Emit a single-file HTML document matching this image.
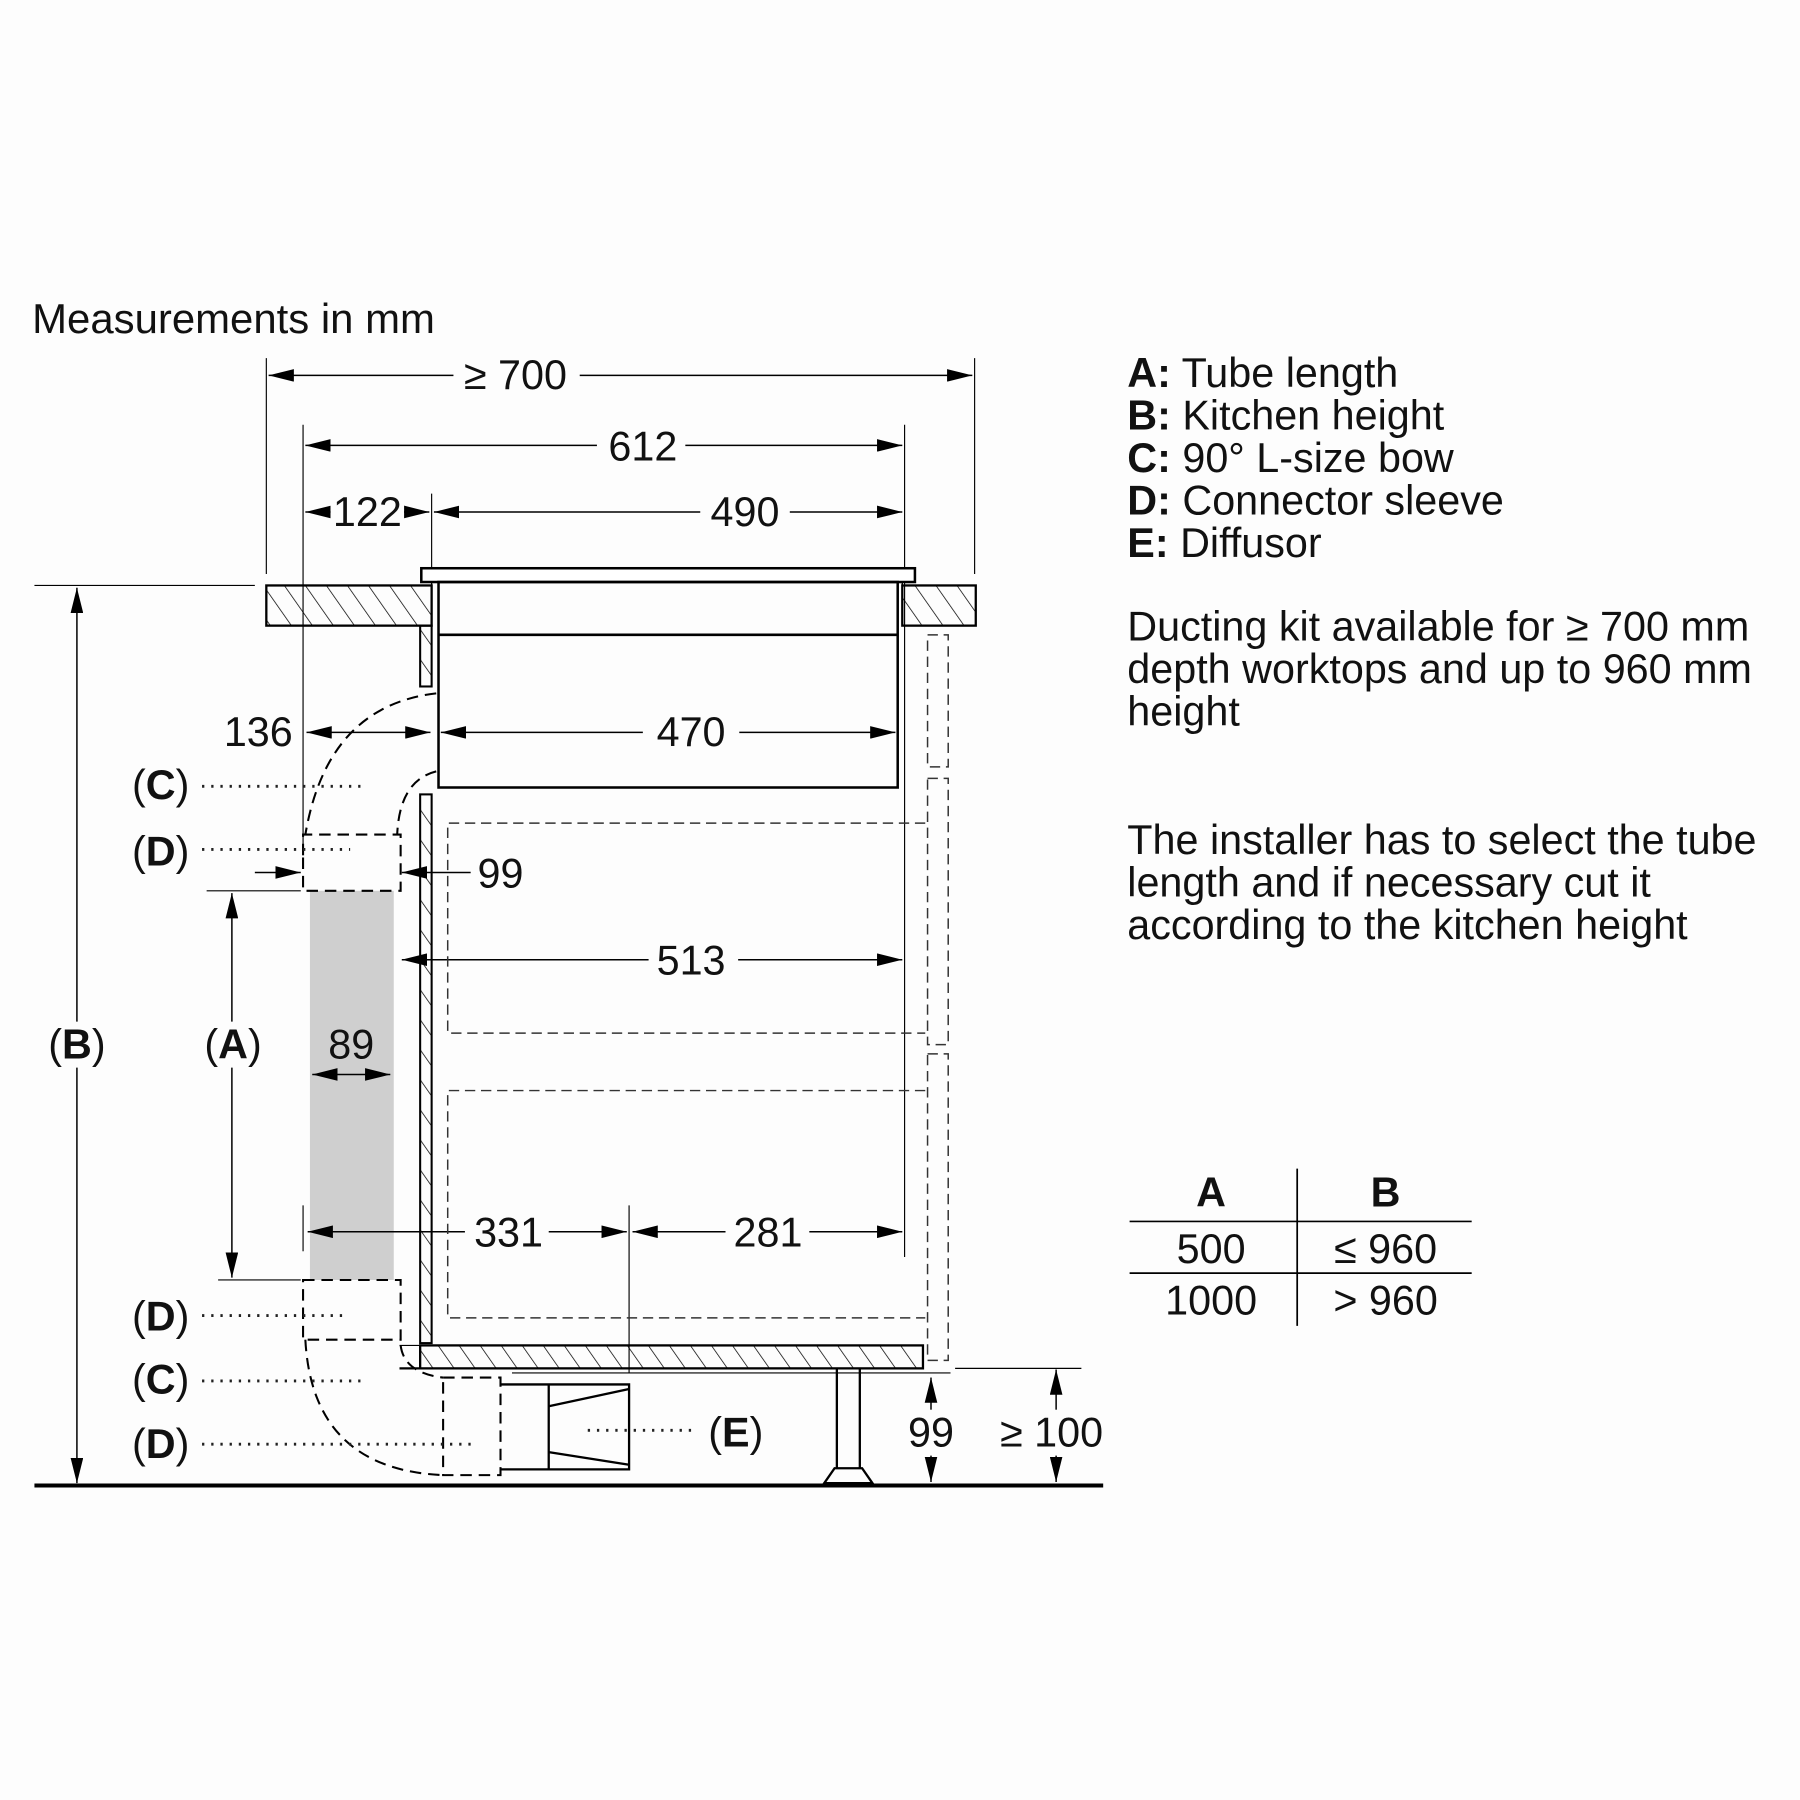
<!DOCTYPE html>
<html><head><style>html,body{margin:0;padding:0;background:#fdfdfd}svg{display:block}</style></head><body>
<svg width="1800" height="1800" viewBox="0 0 1568 1568" xmlns="http://www.w3.org/2000/svg" font-family="Liberation Sans, sans-serif">
<defs>
<pattern id="h" width="15" height="15" patternUnits="userSpaceOnUse" patternTransform="rotate(-35)">
<line x1="0" y1="0" x2="0" y2="15" stroke="#000" stroke-width="1.3"/></pattern>
<marker id="b" viewBox="0 0 20 10" refX="20" refY="5" markerWidth="22" markerHeight="11" markerUnits="userSpaceOnUse" orient="auto-start-reverse"><path d="M0,0 L20,5 L0,10 z" fill="#000"/></marker>
</defs>
<rect width="1568" height="1568" fill="#fdfdfd"/>
<rect x="270" y="776" width="73" height="339" fill="#cfcfcf"/>
<g font-size="36.5" fill="#111">
<text x="28" y="290">Measurements in mm</text>
</g>
<g stroke="#000" fill="none">
<g stroke-width="1">
<line x1="232" y1="312" x2="232" y2="500"/><line x1="849" y1="312" x2="849" y2="500"/>
<line x1="264" y1="370" x2="264" y2="745"/><line x1="376" y1="430" x2="376" y2="495"/>
<line x1="788" y1="370" x2="788" y2="1095"/><line x1="548" y1="1050" x2="548" y2="1196"/>
<line x1="30" y1="510" x2="222" y2="510"/>
<line x1="180" y1="776" x2="262" y2="776"/><line x1="190" y1="1115" x2="262" y2="1115"/>
<line x1="264" y1="1050" x2="264" y2="1090"/>
<line x1="832" y1="1192" x2="942" y2="1192"/><line x1="446" y1="1196" x2="828" y2="1196"/>
</g>
<g stroke-width="1.3">
<line x1="234" y1="327" x2="395" y2="327" marker-start="url(#b)"/><line x1="505" y1="327" x2="847" y2="327" marker-end="url(#b)"/>
<line x1="266" y1="388" x2="520" y2="388" marker-start="url(#b)"/><line x1="597" y1="388" x2="786" y2="388" marker-end="url(#b)"/>
<line x1="266" y1="446" x2="288" y2="446" marker-start="url(#b)"/><line x1="352" y1="446" x2="374" y2="446" marker-end="url(#b)"/>
<line x1="378" y1="446" x2="610" y2="446" marker-start="url(#b)"/><line x1="688" y1="446" x2="786" y2="446" marker-end="url(#b)"/>
<line x1="267" y1="638" x2="375" y2="638" marker-start="url(#b)" marker-end="url(#b)"/>
<line x1="384" y1="638" x2="560" y2="638" marker-start="url(#b)"/><line x1="644" y1="638" x2="780" y2="638" marker-end="url(#b)"/>
<line x1="350" y1="836" x2="565" y2="836" marker-start="url(#b)"/><line x1="643" y1="836" x2="786" y2="836" marker-end="url(#b)"/>
<line x1="268" y1="1073" x2="405" y2="1073" marker-start="url(#b)"/><line x1="478" y1="1073" x2="546" y2="1073" marker-end="url(#b)"/>
<line x1="551" y1="1073" x2="632" y2="1073" marker-start="url(#b)"/><line x1="705" y1="1073" x2="786" y2="1073" marker-end="url(#b)"/>
<line x1="222" y1="760" x2="262" y2="760" marker-end="url(#b)"/>
<line x1="410" y1="760" x2="350" y2="760" marker-end="url(#b)"/>
<line x1="272" y1="936" x2="340" y2="936" marker-start="url(#b)" marker-end="url(#b)"/>
<line x1="67" y1="512" x2="67" y2="890" marker-start="url(#b)"/><line x1="67" y1="930" x2="67" y2="1292" marker-end="url(#b)"/>
<line x1="202" y1="778" x2="202" y2="890" marker-start="url(#b)"/><line x1="202" y1="930" x2="202" y2="1113" marker-end="url(#b)"/>
<line x1="811" y1="1200" x2="811" y2="1228" marker-start="url(#b)"/><line x1="811" y1="1268" x2="811" y2="1291" marker-end="url(#b)"/>
<line x1="920" y1="1193" x2="920" y2="1228" marker-start="url(#b)"/><line x1="920" y1="1268" x2="920" y2="1291" marker-end="url(#b)"/>
</g>
<rect x="232" y="510" width="144" height="35" fill="url(#h)" stroke-width="2"/>
<rect x="786" y="510" width="64" height="35" fill="url(#h)" stroke-width="2"/>
<rect x="366" y="545" width="10" height="53" fill="url(#h)" stroke-width="1.8"/>
<rect x="366" y="692" width="10" height="478" fill="url(#h)" stroke-width="1.8"/>
<rect x="366" y="1172" width="438" height="20" fill="url(#h)" stroke-width="2"/>
<line x1="348" y1="1192" x2="366" y2="1192" stroke-width="2"/>
<line x1="348" y1="1172" x2="366" y2="1172" stroke-width="1"/>
<rect x="367" y="495" width="430" height="12" fill="#fff" stroke-width="2.2"/>
<rect x="382" y="507" width="400" height="179" stroke-width="2.2"/>
<line x1="382" y1="553" x2="782" y2="553" stroke-width="2.2"/>
<line x1="376" y1="507" x2="376" y2="545" stroke-width="1.2"/><line x1="786" y1="507" x2="786" y2="545" stroke-width="1.2"/>
<g stroke="#333" stroke-width="1.3" stroke-dasharray="9,5">
<path d="M808 553 H826 V668 H808 Z"/><path d="M808 678 H826 V910 H808 Z"/><path d="M808 918 H826 V1185 H808 Z"/>
<path d="M806 717 H390 V900 H806"/><path d="M806 950 H390 V1148 H806"/>
</g>
<g stroke-width="1.8" stroke-dasharray="10,6">
<path d="M380 604 Q285 615 266 727"/><path d="M380 672 Q348 680 346 727"/>
<path d="M264 745 V727 H349 V776 H264 Z"/>
<path d="M264 1115 H349 V1167 H264 Z"/>
<path d="M266 1167 Q272 1280 386 1285"/><path d="M349 1172 Q352 1196 386 1200"/>
<path d="M386 1200 H436 V1285 H386 Z"/>
</g>
<g stroke-width="2">
<path d="M436 1206 H548 V1280 H436"/><line x1="478" y1="1206" x2="478" y2="1280"/>
<line x1="478" y1="1225" x2="548" y2="1210"/><line x1="478" y1="1265" x2="548" y2="1276"/>
<path d="M729 1192 V1279 M749 1192 V1279 M727 1279 H751 L760 1292 H718 Z"/>
</g>
<line x1="30" y1="1294" x2="961" y2="1294" stroke-width="3.5"/>
<g stroke-width="2.5" stroke-dasharray="2,6" stroke="#222">
<line x1="176" y1="685" x2="318" y2="685"/><line x1="176" y1="740" x2="305" y2="740"/>
<line x1="176" y1="1146" x2="300" y2="1146"/><line x1="176" y1="1203" x2="318" y2="1203"/>
<line x1="176" y1="1258" x2="410" y2="1258"/><line x1="512" y1="1246" x2="608" y2="1246"/>
</g>
<g stroke-width="1.5">
<line x1="984" y1="1064" x2="1282" y2="1064"/><line x1="984" y1="1109" x2="1282" y2="1109"/>
<line x1="1130" y1="1018" x2="1130" y2="1155"/>
</g>
</g>
<g font-size="36" fill="#111" text-anchor="middle">
<text x="449" y="339">≥ 700</text><text x="560" y="401">612</text>
<text x="320" y="458">122</text><text x="649" y="458">490</text>
<text x="225" y="650">136</text><text x="602" y="650">470</text>
<text x="436" y="773">99</text><text x="602" y="849">513</text>
<text x="306" y="922">89</text>
<text x="443" y="1086">331</text><text x="669" y="1086">281</text>
<text x="811" y="1260">99</text><text x="916" y="1260">≥ 100</text>
<text x="67" y="922">(<tspan font-weight="bold">B</tspan>)</text>
<text x="203" y="922">(<tspan font-weight="bold">A</tspan>)</text>
<text x="140" y="696">(<tspan font-weight="bold">C</tspan>)</text>
<text x="140" y="754">(<tspan font-weight="bold">D</tspan>)</text>
<text x="140" y="1159">(<tspan font-weight="bold">D</tspan>)</text>
<text x="140" y="1214">(<tspan font-weight="bold">C</tspan>)</text>
<text x="140" y="1270">(<tspan font-weight="bold">D</tspan>)</text>
<text x="641" y="1260">(<tspan font-weight="bold">E</tspan>)</text>
<text x="1055" y="1051" font-weight="bold">A</text><text x="1207" y="1051" font-weight="bold">B</text>
<text x="1055" y="1100">500</text><text x="1207" y="1100">≤ 960</text>
<text x="1055" y="1145">1000</text><text x="1207" y="1145">&gt; 960</text>
</g>
<g font-size="36" fill="#111">
<text x="982" y="337"><tspan font-weight="bold">A:</tspan> Tube length</text>
<text x="982" y="374"><tspan font-weight="bold">B:</tspan> Kitchen height</text>
<text x="982" y="411"><tspan font-weight="bold">C:</tspan> 90° L-size bow</text>
<text x="982" y="448"><tspan font-weight="bold">D:</tspan> Connector sleeve</text>
<text x="982" y="485"><tspan font-weight="bold">E:</tspan> Diffusor</text>
<text x="982" y="558">Ducting kit available for ≥ 700 mm</text>
<text x="982" y="595">depth worktops and up to 960 mm</text>
<text x="982" y="632">height</text>
<text x="982" y="744">The installer has to select the tube</text>
<text x="982" y="781">length and if necessary cut it</text>
<text x="982" y="818">according to the kitchen height</text>
</g>
</svg>
</body></html>
